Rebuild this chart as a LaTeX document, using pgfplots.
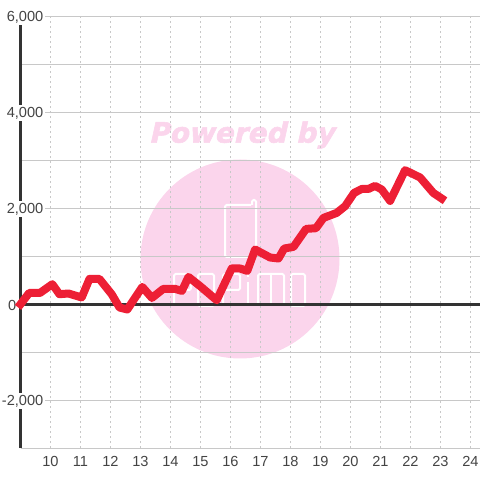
\documentclass[border=0pt]{standalone}
\usepackage{pgfplots}
\pgfplotsset{compat=1.18}
\usepackage{fontspec}
\setmainfont{Liberation Sans}
\newfontfamily\wmfont[FakeSlant=0.22,FakeBold=2]{DejaVu Sans Bold}
\definecolor{axdark}{HTML}{333333}
\definecolor{gridc}{HTML}{C8C8C8}
\definecolor{redline}{HTML}{ED1F35}
\definecolor{wmark}{HTML}{FBD5EC}
\definecolor{labelc}{HTML}{444444}
\pgfplotstableread{
x y
9.00 0
9.29 235
9.65 235
10.06 417
10.30 208
10.60 223
11.04 140
11.30 527
11.63 527
12.04 208
12.30 -69
12.56 -110
13.06 360
13.38 131
13.76 319
14.15 319
14.38 277
14.60 569
14.99 375
15.54 83
16.04 744
16.32 744
16.56 694
16.82 1140
17.32 973
17.60 952
17.79 1160
18.10 1194
18.52 1569
18.85 1583
19.10 1798
19.54 1902
19.82 2042
20.12 2319
20.38 2402
20.60 2402
20.82 2465
21.04 2390
21.32 2152
21.82 2792
22.32 2640
22.76 2319
23.04 2202
}\sales
\begin{document}
\begin{tikzpicture}[x=1pt,y=1pt]
\useasboundingbox (0,0) rectangle (480,480);
% watermark sits behind the grid
\fill[wmark] (240,221) circle (99.5);
\node[wmark,anchor=center,font=\wmfont\fontsize{28}{28}\selectfont] at (241.5,345) {Powered by};
\begin{scope}[white,line width=2pt,line join=round,rounded corners=1.5pt]
\draw (251,275) -- (225,275) -- (225,223) -- (256,223) -- (256,280) -- (252,280) -- (252,275);
% logo letters
\draw (174,174) -- (174,206) -- (191,206) -- (191,190) -- (174,190);
\draw (198,174) rectangle (214,206);
\draw (223,174) -- (223,206) -- (240,206) -- (240,190) -- (223,190);
\draw (248,174) -- (248,198);
\draw (248,203) -- (248,206);
\draw (258,174) -- (258,206) -- (284,206) -- (284,174);
\draw (271,174) -- (271,206);
\draw (291,174) rectangle (305,206);
\end{scope}
\begin{axis}[
    at={(20.5pt,31.8pt)},anchor=south west,
    scale only axis,
    width=459.5pt,height=432pt,
    xmin=9,xmax=24.317,
    ymin=-3000,ymax=6000,
    axis x line*=bottom,
    axis y line*=left,
    x axis line style={-,gridc,line width=1pt},
    y axis line style={-,axdark,line width=3.2pt},
    xtick={10,...,24},
    ytick={-2000,2000,4000,6000},
    minor ytick={-3000,-1000,1000,3000,5000},
    extra y ticks={0},
    extra y tick style={yticklabel style={xshift=-27pt}},
    yticklabels={-2{,}000,2{,}000,4{,}000,6{,}000},
    tick style={draw=none},
    major tick length=0pt,
    minor tick length=0pt,
    xmajorgrids,ymajorgrids,yminorgrids,
    x grid style={gridc,line width=0.9pt,dash pattern=on 2pt off 3pt},
    y grid style={gridc,line width=1pt},
    minor y grid style={gridc,line width=1pt},
    scaled y ticks=false,
    /pgf/number format/assume math mode=true,
    tick label style={font=\fontsize{14.6}{14.6}\selectfont,text=labelc},
    yticklabel style={anchor=east,xshift=25pt,yshift=-1pt,fill=white,inner sep=2pt},
    xticklabel style={yshift=-5pt},
    clip=false,
]
\addplot[axdark,line width=3pt,forget plot] coordinates {(9,0) (24.317,0)};
\addplot[redline,line width=8pt,line join=round,line cap=rect] table[x=x,y=y] {\sales};
\end{axis}
\end{tikzpicture}
\end{document}
